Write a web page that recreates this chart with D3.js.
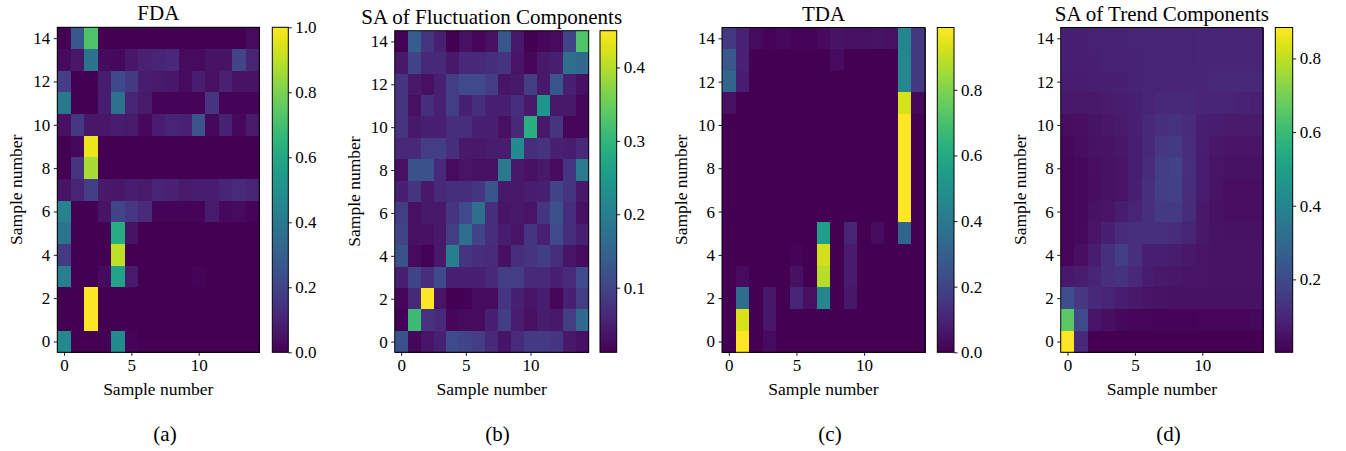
<!DOCTYPE html>
<html>
<head>
<meta charset="utf-8">
<script src="https://cdn.jsdelivr.net/npm/d3@7"></script>
<style>
  body { margin: 0; background: #fff; }
  svg text { font-family: "Liberation Serif", "DejaVu Serif", serif; fill: #000; }
</style>
</head>
<body>
<svg id="fig" width="1346" height="451" font-family="Liberation Serif"></svg>
<script>
// Sample indices shared by both axes of every matrix
const sampleNumbers = [0, 1, 2, 3, 4, 5, 6, 7, 8, 9, 10, 11, 12, 13, 14];
const xTickValues = [0, 5, 10];
const yTickValues = [0, 2, 4, 6, 8, 10, 12, 14];

// Each matrix is listed row by row from sample 14 (top) down to sample 0 (bottom)
const fdaRows = [
  [0.00, 0.27, 0.72, 0.00, 0.00, 0.00, 0.00, 0.00, 0.00, 0.00, 0.00, 0.00, 0.00, 0.00, 0.03],
  [0.03, 0.06, 0.38, 0.03, 0.02, 0.06, 0.09, 0.10, 0.11, 0.03, 0.03, 0.05, 0.05, 0.20, 0.10],
  [0.18, 0.00, 0.00, 0.08, 0.22, 0.17, 0.08, 0.07, 0.06, 0.03, 0.08, 0.04, 0.09, 0.05, 0.05],
  [0.40, 0.00, 0.00, 0.08, 0.37, 0.10, 0.07, 0.01, 0.01, 0.01, 0.01, 0.15, 0.01, 0.01, 0.01],
  [0.04, 0.16, 0.06, 0.06, 0.08, 0.07, 0.02, 0.08, 0.10, 0.09, 0.25, 0.02, 0.09, 0.02, 0.07],
  [0.00, 0.02, 0.97, 0.00, 0.00, 0.00, 0.00, 0.00, 0.00, 0.00, 0.00, 0.00, 0.00, 0.00, 0.00],
  [0.00, 0.15, 0.87, 0.00, 0.00, 0.00, 0.00, 0.00, 0.00, 0.00, 0.00, 0.00, 0.00, 0.00, 0.00],
  [0.05, 0.10, 0.18, 0.07, 0.06, 0.08, 0.07, 0.10, 0.09, 0.07, 0.08, 0.08, 0.10, 0.12, 0.10],
  [0.44, 0.00, 0.00, 0.05, 0.20, 0.16, 0.12, 0.01, 0.01, 0.01, 0.01, 0.07, 0.02, 0.03, 0.01],
  [0.38, 0.00, 0.00, 0.00, 0.62, 0.05, 0.00, 0.00, 0.00, 0.00, 0.00, 0.00, 0.00, 0.00, 0.00],
  [0.17, 0.00, 0.00, 0.00, 0.90, 0.00, 0.00, 0.00, 0.00, 0.00, 0.00, 0.00, 0.00, 0.00, 0.00],
  [0.42, 0.00, 0.00, 0.03, 0.58, 0.07, 0.00, 0.00, 0.00, 0.00, 0.01, 0.00, 0.00, 0.00, 0.00],
  [0.00, 0.00, 1.00, 0.00, 0.00, 0.00, 0.00, 0.00, 0.00, 0.00, 0.00, 0.00, 0.00, 0.00, 0.00],
  [0.00, 0.00, 1.00, 0.00, 0.00, 0.00, 0.00, 0.00, 0.00, 0.00, 0.00, 0.00, 0.00, 0.00, 0.00],
  [0.47, 0.00, 0.00, 0.00, 0.48, 0.01, 0.00, 0.00, 0.00, 0.00, 0.00, 0.00, 0.00, 0.00, 0.00]
];

const fluctuationRows = [
  [0.015, 0.14, 0.08, 0.05, 0.012, 0.03, 0.02, 0.03, 0.13, 0.04, 0.012, 0.02, 0.025, 0.10, 0.33],
  [0.04, 0.10, 0.06, 0.06, 0.04, 0.06, 0.06, 0.07, 0.08, 0.035, 0.02, 0.04, 0.05, 0.17, 0.16],
  [0.08, 0.04, 0.03, 0.05, 0.09, 0.11, 0.11, 0.09, 0.035, 0.04, 0.09, 0.04, 0.13, 0.05, 0.03],
  [0.08, 0.03, 0.07, 0.05, 0.09, 0.05, 0.07, 0.05, 0.05, 0.07, 0.04, 0.24, 0.04, 0.04, 0.02],
  [0.08, 0.04, 0.05, 0.05, 0.07, 0.07, 0.05, 0.05, 0.03, 0.06, 0.29, 0.04, 0.08, 0.02, 0.02],
  [0.06, 0.06, 0.09, 0.09, 0.07, 0.04, 0.04, 0.045, 0.045, 0.22, 0.07, 0.075, 0.05, 0.045, 0.06],
  [0.03, 0.12, 0.12, 0.06, 0.025, 0.035, 0.03, 0.03, 0.19, 0.04, 0.03, 0.04, 0.025, 0.08, 0.19],
  [0.05, 0.08, 0.04, 0.06, 0.07, 0.07, 0.08, 0.13, 0.04, 0.04, 0.045, 0.05, 0.10, 0.08, 0.04],
  [0.09, 0.03, 0.04, 0.04, 0.08, 0.11, 0.17, 0.07, 0.035, 0.04, 0.035, 0.08, 0.12, 0.07, 0.03],
  [0.10, 0.03, 0.03, 0.04, 0.09, 0.17, 0.10, 0.07, 0.045, 0.035, 0.08, 0.05, 0.11, 0.07, 0.05],
  [0.12, 0.025, 0.015, 0.04, 0.20, 0.08, 0.07, 0.065, 0.03, 0.07, 0.08, 0.09, 0.07, 0.035, 0.025],
  [0.05, 0.10, 0.07, 0.11, 0.05, 0.05, 0.05, 0.06, 0.09, 0.09, 0.06, 0.06, 0.05, 0.065, 0.11],
  [0.02, 0.06, 0.45, 0.035, 0.012, 0.015, 0.025, 0.025, 0.08, 0.05, 0.035, 0.045, 0.02, 0.05, 0.09],
  [0.015, 0.31, 0.075, 0.065, 0.02, 0.025, 0.025, 0.05, 0.09, 0.045, 0.03, 0.045, 0.04, 0.09, 0.16],
  [0.12, 0.02, 0.035, 0.05, 0.11, 0.10, 0.09, 0.06, 0.035, 0.065, 0.085, 0.085, 0.08, 0.04, 0.03]
];

const tdaRows = [
  [0.16, 0.09, 0.03, 0.01, 0.02, 0.01, 0.01, 0.03, 0.05, 0.04, 0.04, 0.05, 0.04, 0.45, 0.16],
  [0.27, 0.09, 0.00, 0.00, 0.00, 0.00, 0.00, 0.00, 0.03, 0.00, 0.00, 0.00, 0.00, 0.46, 0.16],
  [0.32, 0.08, 0.00, 0.00, 0.00, 0.00, 0.00, 0.00, 0.00, 0.00, 0.00, 0.00, 0.00, 0.46, 0.16],
  [0.04, 0.00, 0.00, 0.00, 0.00, 0.00, 0.00, 0.00, 0.00, 0.00, 0.00, 0.00, 0.00, 0.93, 0.02],
  [0.00, 0.00, 0.00, 0.00, 0.00, 0.00, 0.00, 0.00, 0.00, 0.00, 0.00, 0.00, 0.00, 0.99, 0.00],
  [0.00, 0.00, 0.00, 0.00, 0.00, 0.00, 0.00, 0.00, 0.00, 0.00, 0.00, 0.00, 0.00, 0.99, 0.00],
  [0.00, 0.00, 0.00, 0.00, 0.00, 0.00, 0.00, 0.00, 0.00, 0.00, 0.00, 0.00, 0.00, 0.99, 0.00],
  [0.00, 0.00, 0.00, 0.00, 0.00, 0.00, 0.00, 0.00, 0.00, 0.00, 0.00, 0.00, 0.00, 0.99, 0.00],
  [0.00, 0.00, 0.00, 0.00, 0.00, 0.00, 0.00, 0.00, 0.00, 0.00, 0.00, 0.00, 0.00, 0.99, 0.00],
  [0.00, 0.00, 0.00, 0.00, 0.00, 0.00, 0.00, 0.55, 0.00, 0.10, 0.00, 0.03, 0.00, 0.32, 0.00],
  [0.00, 0.00, 0.00, 0.00, 0.00, 0.01, 0.00, 0.92, 0.00, 0.07, 0.00, 0.00, 0.00, 0.00, 0.00],
  [0.00, 0.03, 0.00, 0.00, 0.00, 0.04, 0.00, 0.88, 0.00, 0.07, 0.00, 0.00, 0.00, 0.00, 0.00],
  [0.00, 0.35, 0.00, 0.06, 0.00, 0.10, 0.04, 0.46, 0.00, 0.06, 0.00, 0.00, 0.00, 0.00, 0.00],
  [0.00, 0.93, 0.00, 0.06, 0.00, 0.00, 0.00, 0.00, 0.00, 0.00, 0.00, 0.00, 0.00, 0.00, 0.00],
  [0.00, 0.99, 0.00, 0.03, 0.00, 0.00, 0.00, 0.00, 0.00, 0.00, 0.00, 0.00, 0.00, 0.00, 0.00]
];

const trendRows = [
  [0.080, 0.080, 0.085, 0.085, 0.085, 0.090, 0.090, 0.090, 0.090, 0.090, 0.095, 0.095, 0.095, 0.095, 0.095],
  [0.080, 0.080, 0.080, 0.085, 0.085, 0.085, 0.090, 0.090, 0.090, 0.090, 0.095, 0.095, 0.095, 0.095, 0.095],
  [0.070, 0.072, 0.075, 0.078, 0.080, 0.085, 0.090, 0.090, 0.092, 0.095, 0.095, 0.100, 0.100, 0.100, 0.100],
  [0.060, 0.060, 0.060, 0.065, 0.070, 0.080, 0.090, 0.100, 0.100, 0.100, 0.095, 0.095, 0.090, 0.085, 0.080],
  [0.030, 0.035, 0.045, 0.055, 0.065, 0.080, 0.100, 0.120, 0.130, 0.110, 0.080, 0.070, 0.065, 0.065, 0.065],
  [0.020, 0.030, 0.040, 0.045, 0.055, 0.075, 0.100, 0.140, 0.150, 0.115, 0.075, 0.055, 0.050, 0.050, 0.050],
  [0.015, 0.020, 0.035, 0.040, 0.050, 0.075, 0.110, 0.160, 0.175, 0.120, 0.070, 0.050, 0.040, 0.040, 0.040],
  [0.015, 0.020, 0.030, 0.040, 0.050, 0.080, 0.120, 0.165, 0.170, 0.115, 0.070, 0.045, 0.035, 0.035, 0.035],
  [0.015, 0.020, 0.040, 0.050, 0.070, 0.090, 0.120, 0.150, 0.150, 0.110, 0.060, 0.040, 0.035, 0.035, 0.035],
  [0.015, 0.025, 0.050, 0.080, 0.110, 0.120, 0.120, 0.120, 0.110, 0.090, 0.060, 0.045, 0.040, 0.040, 0.040],
  [0.015, 0.035, 0.070, 0.120, 0.160, 0.120, 0.080, 0.080, 0.070, 0.060, 0.050, 0.045, 0.045, 0.045, 0.045],
  [0.060, 0.070, 0.090, 0.120, 0.130, 0.100, 0.070, 0.060, 0.055, 0.050, 0.050, 0.045, 0.045, 0.045, 0.045],
  [0.210, 0.140, 0.100, 0.090, 0.070, 0.060, 0.050, 0.045, 0.040, 0.040, 0.040, 0.040, 0.040, 0.040, 0.040],
  [0.660, 0.200, 0.050, 0.035, 0.020, 0.015, 0.015, 0.010, 0.010, 0.010, 0.015, 0.015, 0.015, 0.015, 0.020],
  [0.884, 0.100, 0.005, 0.003, 0.002, 0.002, 0.002, 0.002, 0.002, 0.002, 0.002, 0.002, 0.002, 0.003, 0.004]
];

// Colorbar tick labels for each panel
const fdaBarTicks = [0.0, 0.2, 0.4, 0.6, 0.8, 1.0];
const fluctuationBarTicks = [0.1, 0.2, 0.3, 0.4];
const tdaBarTicks = [0.0, 0.2, 0.4, 0.6, 0.8];
const trendBarTicks = [0.2, 0.4, 0.6, 0.8];

const panels = [
  { title: "FDA", tag: "(a)", rows: fdaRows, barTicks: fdaBarTicks,
    left: 57.3, right: 259.3, top: 27.3, bottom: 352.3, barLeft: 272.3, barRight: 288.3, tagX: 165 },
  { title: "SA of Fluctuation Components", tag: "(b)", rows: fluctuationRows, barTicks: fluctuationBarTicks,
    left: 394.7, right: 588.7, top: 30.7, bottom: 352.3, barLeft: 600, barRight: 616.7, tagX: 497.5 },
  { title: "TDA", tag: "(c)", rows: tdaRows, barTicks: tdaBarTicks,
    left: 722, right: 925, top: 27.5, bottom: 352.3, barLeft: 937.3, barRight: 954, tagX: 830 },
  { title: "SA of Trend Components", tag: "(d)", rows: trendRows, barTicks: trendBarTicks,
    left: 1060.7, right: 1263, top: 27.5, bottom: 352.3, barLeft: 1275.3, barRight: 1292.7, tagX: 1168.5 }
];

const FONT = "Liberation Serif";
const svg = d3.select("#fig");
const defs = svg.append("defs");
const tickFont = 17;
const n = sampleNumbers.length;

function styleAxis(a) {
  a.attr("font-family", FONT).attr("font-size", tickFont);
  a.select(".domain").remove();
  a.selectAll("text").attr("font-family", FONT).attr("font-size", tickFont).style("fill", "#000");
  a.selectAll("line").attr("stroke", "#000").attr("stroke-width", 0.9);
}

panels.forEach((p, pi) => {
  const cells = [];
  p.rows.forEach((row, ri) => {
    row.forEach((v, ci) => cells.push({ x: sampleNumbers[ci], y: sampleNumbers[n - 1 - ri], v }));
  });
  const vmin = d3.min(cells, d => d.v);
  const vmax = d3.max(cells, d => d.v);

  const xs = d3.scaleLinear().domain([-0.5, n - 0.5]).range([p.left, p.right]);
  const ys = d3.scaleLinear().domain([-0.5, n - 0.5]).range([p.bottom, p.top]);
  const color = d3.scaleSequential(d3.interpolateViridis).domain([vmin, vmax]);

  const g = svg.append("g");

  // heatmap cells
  g.append("g").attr("shape-rendering", "crispEdges")
    .selectAll("rect").data(cells).join("rect")
    .attr("x", d => xs(d.x - 0.5))
    .attr("y", d => ys(d.y + 0.5))
    .attr("width", d => xs(d.x + 0.5) - xs(d.x - 0.5) + 0.5)
    .attr("height", d => ys(d.y - 0.5) - ys(d.y + 0.5) + 0.5)
    .attr("fill", d => color(d.v));

  // frame
  g.append("rect")
    .attr("x", p.left).attr("y", p.top)
    .attr("width", p.right - p.left).attr("height", p.bottom - p.top)
    .attr("fill", "none").attr("stroke", "#000").attr("stroke-width", 1);

  // axes
  const xAxis = g.append("g")
    .attr("transform", `translate(0,${p.bottom})`)
    .call(d3.axisBottom(xs).tickValues(xTickValues).tickSize(3.5).tickPadding(3.5));
  const yAxis = g.append("g")
    .attr("transform", `translate(${p.left},0)`)
    .call(d3.axisLeft(ys).tickValues(yTickValues).tickSize(3.5).tickPadding(3.5));
  styleAxis(xAxis);
  styleAxis(yAxis);

  // title
  g.append("text")
    .attr("x", (p.left + p.right) / 2).attr("y", p.top - 7)
    .attr("text-anchor", "middle").attr("font-size", 21).attr("font-family", FONT)
    .text(p.title);

  // axis labels
  g.append("text")
    .attr("x", (p.left + p.right) / 2).attr("y", p.bottom + 43)
    .attr("text-anchor", "middle").attr("font-size", 17.5).attr("font-family", FONT)
    .text("Sample number");
  g.append("text")
    .attr("transform", `translate(${p.left - 35},${(p.top + p.bottom) / 2}) rotate(-90)`)
    .attr("text-anchor", "middle").attr("font-size", 17.5).attr("font-family", FONT)
    .text("Sample number");

  // colorbar
  const gradId = "grad" + pi;
  const grad = defs.append("linearGradient").attr("id", gradId)
    .attr("x1", "0").attr("y1", "1").attr("x2", "0").attr("y2", "0");
  d3.range(0, 1.0001, 0.05).forEach(t => {
    grad.append("stop").attr("offset", t).attr("stop-color", d3.interpolateViridis(t));
  });
  g.append("rect")
    .attr("x", p.barLeft).attr("y", p.top)
    .attr("width", p.barRight - p.barLeft).attr("height", p.bottom - p.top)
    .attr("fill", `url(#${gradId})`)
    .attr("stroke", "#000").attr("stroke-width", 1);

  const bs = d3.scaleLinear().domain([vmin, vmax]).range([p.bottom, p.top]);
  const barAxis = g.append("g")
    .attr("transform", `translate(${p.barRight},0)`)
    .call(d3.axisRight(bs).tickValues(p.barTicks).tickFormat(d3.format(".1f")).tickSize(3.5).tickPadding(3.5));
  styleAxis(barAxis);

  // subfigure tag
  svg.append("text")
    .attr("x", p.tagX).attr("y", 441)
    .attr("text-anchor", "middle").attr("font-size", 21).attr("font-family", FONT)
    .text(p.tag);
});
</script>
</body>
</html>
